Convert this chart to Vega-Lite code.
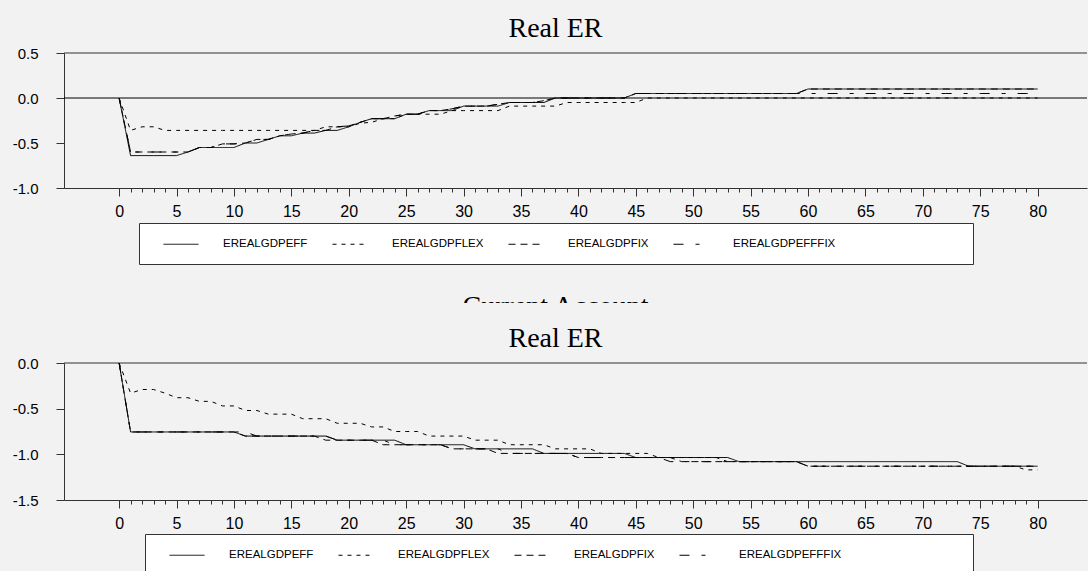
{
 "$schema": "https://vega.github.io/schema/vega-lite/v6.json",
 "background": "#f2f2f2",
 "padding": {"left": 12, "top": 15, "right": 0, "bottom": 0},
 "config": {
  "view": {"stroke": null},
  "font": "Liberation Sans",
  "axis": {"grid": false, "title": null, "domainColor": "#333", "tickColor": "#333", "labelColor": "black", "labelFlush": false}
 },
 "datasets": {
  "top": [
   {"x":0,"EREALGDPEFF":0,"EREALGDPFLEX":0,"EREALGDPFIX":0,"EREALGDPEFFFIX":0},
   {"x":1,"EREALGDPEFF":-0.64,"EREALGDPFLEX":-0.36,"EREALGDPFIX":-0.6,"EREALGDPEFFFIX":-0.6},
   {"x":2,"EREALGDPEFF":-0.64,"EREALGDPFLEX":-0.32,"EREALGDPFIX":-0.6,"EREALGDPEFFFIX":-0.6},
   {"x":3,"EREALGDPEFF":-0.64,"EREALGDPFLEX":-0.32,"EREALGDPFIX":-0.6,"EREALGDPEFFFIX":-0.6},
   {"x":4,"EREALGDPEFF":-0.64,"EREALGDPFLEX":-0.36,"EREALGDPFIX":-0.6,"EREALGDPEFFFIX":-0.6},
   {"x":5,"EREALGDPEFF":-0.64,"EREALGDPFLEX":-0.36,"EREALGDPFIX":-0.6,"EREALGDPEFFFIX":-0.6},
   {"x":6,"EREALGDPEFF":-0.6,"EREALGDPFLEX":-0.36,"EREALGDPFIX":-0.6,"EREALGDPEFFFIX":-0.6},
   {"x":7,"EREALGDPEFF":-0.55,"EREALGDPFLEX":-0.36,"EREALGDPFIX":-0.55,"EREALGDPEFFFIX":-0.55},
   {"x":8,"EREALGDPEFF":-0.55,"EREALGDPFLEX":-0.36,"EREALGDPFIX":-0.55,"EREALGDPEFFFIX":-0.55},
   {"x":9,"EREALGDPEFF":-0.55,"EREALGDPFLEX":-0.36,"EREALGDPFIX":-0.51,"EREALGDPEFFFIX":-0.51},
   {"x":10,"EREALGDPEFF":-0.55,"EREALGDPFLEX":-0.36,"EREALGDPFIX":-0.51,"EREALGDPEFFFIX":-0.51},
   {"x":11,"EREALGDPEFF":-0.5,"EREALGDPFLEX":-0.36,"EREALGDPFIX":-0.5,"EREALGDPEFFFIX":-0.5},
   {"x":12,"EREALGDPEFF":-0.5,"EREALGDPFLEX":-0.36,"EREALGDPFIX":-0.46,"EREALGDPEFFFIX":-0.46},
   {"x":13,"EREALGDPEFF":-0.46,"EREALGDPFLEX":-0.36,"EREALGDPFIX":-0.46,"EREALGDPEFFFIX":-0.46},
   {"x":14,"EREALGDPEFF":-0.42,"EREALGDPFLEX":-0.36,"EREALGDPFIX":-0.42,"EREALGDPEFFFIX":-0.42},
   {"x":15,"EREALGDPEFF":-0.42,"EREALGDPFLEX":-0.36,"EREALGDPFIX":-0.4,"EREALGDPEFFFIX":-0.4},
   {"x":16,"EREALGDPEFF":-0.39,"EREALGDPFLEX":-0.36,"EREALGDPFIX":-0.39,"EREALGDPEFFFIX":-0.39},
   {"x":17,"EREALGDPEFF":-0.39,"EREALGDPFLEX":-0.36,"EREALGDPFIX":-0.36,"EREALGDPEFFFIX":-0.36},
   {"x":18,"EREALGDPEFF":-0.36,"EREALGDPFLEX":-0.32,"EREALGDPFIX":-0.36,"EREALGDPEFFFIX":-0.36},
   {"x":19,"EREALGDPEFF":-0.36,"EREALGDPFLEX":-0.32,"EREALGDPFIX":-0.32,"EREALGDPEFFFIX":-0.32},
   {"x":20,"EREALGDPEFF":-0.32,"EREALGDPFLEX":-0.32,"EREALGDPFIX":-0.31,"EREALGDPEFFFIX":-0.31},
   {"x":21,"EREALGDPEFF":-0.27,"EREALGDPFLEX":-0.28,"EREALGDPFIX":-0.27,"EREALGDPEFFFIX":-0.27},
   {"x":22,"EREALGDPEFF":-0.23,"EREALGDPFLEX":-0.27,"EREALGDPFIX":-0.23,"EREALGDPEFFFIX":-0.23},
   {"x":23,"EREALGDPEFF":-0.23,"EREALGDPFLEX":-0.23,"EREALGDPFIX":-0.23,"EREALGDPEFFFIX":-0.23},
   {"x":24,"EREALGDPEFF":-0.23,"EREALGDPFLEX":-0.23,"EREALGDPFIX":-0.2,"EREALGDPEFFFIX":-0.2},
   {"x":25,"EREALGDPEFF":-0.18,"EREALGDPFLEX":-0.18,"EREALGDPFIX":-0.18,"EREALGDPEFFFIX":-0.18},
   {"x":26,"EREALGDPEFF":-0.18,"EREALGDPFLEX":-0.18,"EREALGDPFIX":-0.18,"EREALGDPEFFFIX":-0.18},
   {"x":27,"EREALGDPEFF":-0.14,"EREALGDPFLEX":-0.18,"EREALGDPFIX":-0.14,"EREALGDPEFFFIX":-0.14},
   {"x":28,"EREALGDPEFF":-0.14,"EREALGDPFLEX":-0.18,"EREALGDPFIX":-0.14,"EREALGDPEFFFIX":-0.14},
   {"x":29,"EREALGDPEFF":-0.14,"EREALGDPFLEX":-0.14,"EREALGDPFIX":-0.12,"EREALGDPEFFFIX":-0.12},
   {"x":30,"EREALGDPEFF":-0.09,"EREALGDPFLEX":-0.14,"EREALGDPFIX":-0.09,"EREALGDPEFFFIX":-0.09},
   {"x":31,"EREALGDPEFF":-0.09,"EREALGDPFLEX":-0.14,"EREALGDPFIX":-0.09,"EREALGDPEFFFIX":-0.09},
   {"x":32,"EREALGDPEFF":-0.09,"EREALGDPFLEX":-0.14,"EREALGDPFIX":-0.09,"EREALGDPEFFFIX":-0.09},
   {"x":33,"EREALGDPEFF":-0.09,"EREALGDPFLEX":-0.14,"EREALGDPFIX":-0.07,"EREALGDPEFFFIX":-0.07},
   {"x":34,"EREALGDPEFF":-0.05,"EREALGDPFLEX":-0.09,"EREALGDPFIX":-0.05,"EREALGDPEFFFIX":-0.05},
   {"x":35,"EREALGDPEFF":-0.05,"EREALGDPFLEX":-0.09,"EREALGDPFIX":-0.05,"EREALGDPEFFFIX":-0.05},
   {"x":36,"EREALGDPEFF":-0.05,"EREALGDPFLEX":-0.09,"EREALGDPFIX":-0.05,"EREALGDPEFFFIX":-0.05},
   {"x":37,"EREALGDPEFF":-0.05,"EREALGDPFLEX":-0.09,"EREALGDPFIX":-0.03,"EREALGDPEFFFIX":-0.03},
   {"x":38,"EREALGDPEFF":0,"EREALGDPFLEX":-0.09,"EREALGDPFIX":0,"EREALGDPEFFFIX":0},
   {"x":39,"EREALGDPEFF":0,"EREALGDPFLEX":-0.05,"EREALGDPFIX":0,"EREALGDPEFFFIX":0},
   {"x":40,"EREALGDPEFF":0,"EREALGDPFLEX":-0.05,"EREALGDPFIX":0,"EREALGDPEFFFIX":0},
   {"x":41,"EREALGDPEFF":0,"EREALGDPFLEX":-0.05,"EREALGDPFIX":0,"EREALGDPEFFFIX":0},
   {"x":42,"EREALGDPEFF":0,"EREALGDPFLEX":-0.05,"EREALGDPFIX":0,"EREALGDPEFFFIX":0},
   {"x":43,"EREALGDPEFF":0,"EREALGDPFLEX":-0.05,"EREALGDPFIX":0,"EREALGDPEFFFIX":0},
   {"x":44,"EREALGDPEFF":0,"EREALGDPFLEX":-0.05,"EREALGDPFIX":0,"EREALGDPEFFFIX":0},
   {"x":45,"EREALGDPEFF":0.05,"EREALGDPFLEX":-0.05,"EREALGDPFIX":0.05,"EREALGDPEFFFIX":0.05},
   {"x":46,"EREALGDPEFF":0.05,"EREALGDPFLEX":0,"EREALGDPFIX":0.05,"EREALGDPEFFFIX":0.05},
   {"x":47,"EREALGDPEFF":0.05,"EREALGDPFLEX":0,"EREALGDPFIX":0.05,"EREALGDPEFFFIX":0.05},
   {"x":48,"EREALGDPEFF":0.05,"EREALGDPFLEX":0,"EREALGDPFIX":0.05,"EREALGDPEFFFIX":0.05},
   {"x":49,"EREALGDPEFF":0.05,"EREALGDPFLEX":0,"EREALGDPFIX":0.05,"EREALGDPEFFFIX":0.05},
   {"x":50,"EREALGDPEFF":0.05,"EREALGDPFLEX":0,"EREALGDPFIX":0.05,"EREALGDPEFFFIX":0.05},
   {"x":51,"EREALGDPEFF":0.05,"EREALGDPFLEX":0,"EREALGDPFIX":0.05,"EREALGDPEFFFIX":0.05},
   {"x":52,"EREALGDPEFF":0.05,"EREALGDPFLEX":0,"EREALGDPFIX":0.05,"EREALGDPEFFFIX":0.05},
   {"x":53,"EREALGDPEFF":0.05,"EREALGDPFLEX":0,"EREALGDPFIX":0.05,"EREALGDPEFFFIX":0.05},
   {"x":54,"EREALGDPEFF":0.05,"EREALGDPFLEX":0,"EREALGDPFIX":0.05,"EREALGDPEFFFIX":0.05},
   {"x":55,"EREALGDPEFF":0.05,"EREALGDPFLEX":0,"EREALGDPFIX":0.05,"EREALGDPEFFFIX":0.05},
   {"x":56,"EREALGDPEFF":0.05,"EREALGDPFLEX":0,"EREALGDPFIX":0.05,"EREALGDPEFFFIX":0.05},
   {"x":57,"EREALGDPEFF":0.05,"EREALGDPFLEX":0,"EREALGDPFIX":0.05,"EREALGDPEFFFIX":0.05},
   {"x":58,"EREALGDPEFF":0.05,"EREALGDPFLEX":0,"EREALGDPFIX":0.05,"EREALGDPEFFFIX":0.05},
   {"x":59,"EREALGDPEFF":0.05,"EREALGDPFLEX":0,"EREALGDPFIX":0.05,"EREALGDPEFFFIX":0.05},
   {"x":60,"EREALGDPEFF":0.1,"EREALGDPFLEX":0,"EREALGDPFIX":0.1,"EREALGDPEFFFIX":0.05},
   {"x":61,"EREALGDPEFF":0.1,"EREALGDPFLEX":0,"EREALGDPFIX":0.1,"EREALGDPEFFFIX":0.05},
   {"x":62,"EREALGDPEFF":0.1,"EREALGDPFLEX":0,"EREALGDPFIX":0.1,"EREALGDPEFFFIX":0.05},
   {"x":63,"EREALGDPEFF":0.1,"EREALGDPFLEX":0,"EREALGDPFIX":0.1,"EREALGDPEFFFIX":0.05},
   {"x":64,"EREALGDPEFF":0.1,"EREALGDPFLEX":0,"EREALGDPFIX":0.1,"EREALGDPEFFFIX":0.05},
   {"x":65,"EREALGDPEFF":0.1,"EREALGDPFLEX":0,"EREALGDPFIX":0.1,"EREALGDPEFFFIX":0.05},
   {"x":66,"EREALGDPEFF":0.1,"EREALGDPFLEX":0,"EREALGDPFIX":0.1,"EREALGDPEFFFIX":0.05},
   {"x":67,"EREALGDPEFF":0.1,"EREALGDPFLEX":0,"EREALGDPFIX":0.1,"EREALGDPEFFFIX":0.05},
   {"x":68,"EREALGDPEFF":0.1,"EREALGDPFLEX":0,"EREALGDPFIX":0.1,"EREALGDPEFFFIX":0.05},
   {"x":69,"EREALGDPEFF":0.1,"EREALGDPFLEX":0,"EREALGDPFIX":0.1,"EREALGDPEFFFIX":0.05},
   {"x":70,"EREALGDPEFF":0.1,"EREALGDPFLEX":0,"EREALGDPFIX":0.1,"EREALGDPEFFFIX":0.05},
   {"x":71,"EREALGDPEFF":0.1,"EREALGDPFLEX":0,"EREALGDPFIX":0.1,"EREALGDPEFFFIX":0.05},
   {"x":72,"EREALGDPEFF":0.1,"EREALGDPFLEX":0,"EREALGDPFIX":0.1,"EREALGDPEFFFIX":0.05},
   {"x":73,"EREALGDPEFF":0.1,"EREALGDPFLEX":0,"EREALGDPFIX":0.1,"EREALGDPEFFFIX":0.05},
   {"x":74,"EREALGDPEFF":0.1,"EREALGDPFLEX":0,"EREALGDPFIX":0.1,"EREALGDPEFFFIX":0.05},
   {"x":75,"EREALGDPEFF":0.1,"EREALGDPFLEX":0,"EREALGDPFIX":0.1,"EREALGDPEFFFIX":0.05},
   {"x":76,"EREALGDPEFF":0.1,"EREALGDPFLEX":0,"EREALGDPFIX":0.1,"EREALGDPEFFFIX":0.05},
   {"x":77,"EREALGDPEFF":0.1,"EREALGDPFLEX":0,"EREALGDPFIX":0.1,"EREALGDPEFFFIX":0.05},
   {"x":78,"EREALGDPEFF":0.1,"EREALGDPFLEX":0,"EREALGDPFIX":0.1,"EREALGDPEFFFIX":0.05},
   {"x":79,"EREALGDPEFF":0.1,"EREALGDPFLEX":0,"EREALGDPFIX":0.1,"EREALGDPEFFFIX":0.05},
   {"x":80,"EREALGDPEFF":0.1,"EREALGDPFLEX":0,"EREALGDPFIX":0.1,"EREALGDPEFFFIX":0.05}
  ],
  "bottom": [
   {"x":0,"EREALGDPEFF":0,"EREALGDPFLEX":0,"EREALGDPFIX":0,"EREALGDPEFFFIX":0},
   {"x":1,"EREALGDPEFF":-0.755,"EREALGDPFLEX":-0.33,"EREALGDPFIX":-0.755,"EREALGDPEFFFIX":-0.755},
   {"x":2,"EREALGDPEFF":-0.755,"EREALGDPFLEX":-0.29,"EREALGDPFIX":-0.755,"EREALGDPEFFFIX":-0.755},
   {"x":3,"EREALGDPEFF":-0.755,"EREALGDPFLEX":-0.29,"EREALGDPFIX":-0.755,"EREALGDPEFFFIX":-0.755},
   {"x":4,"EREALGDPEFF":-0.755,"EREALGDPFLEX":-0.33,"EREALGDPFIX":-0.755,"EREALGDPEFFFIX":-0.755},
   {"x":5,"EREALGDPEFF":-0.755,"EREALGDPFLEX":-0.38,"EREALGDPFIX":-0.755,"EREALGDPEFFFIX":-0.755},
   {"x":6,"EREALGDPEFF":-0.755,"EREALGDPFLEX":-0.38,"EREALGDPFIX":-0.755,"EREALGDPEFFFIX":-0.755},
   {"x":7,"EREALGDPEFF":-0.755,"EREALGDPFLEX":-0.42,"EREALGDPFIX":-0.755,"EREALGDPEFFFIX":-0.755},
   {"x":8,"EREALGDPEFF":-0.755,"EREALGDPFLEX":-0.42,"EREALGDPFIX":-0.755,"EREALGDPEFFFIX":-0.755},
   {"x":9,"EREALGDPEFF":-0.755,"EREALGDPFLEX":-0.47,"EREALGDPFIX":-0.755,"EREALGDPEFFFIX":-0.755},
   {"x":10,"EREALGDPEFF":-0.755,"EREALGDPFLEX":-0.47,"EREALGDPFIX":-0.755,"EREALGDPEFFFIX":-0.755},
   {"x":11,"EREALGDPEFF":-0.8,"EREALGDPFLEX":-0.52,"EREALGDPFIX":-0.8,"EREALGDPEFFFIX":-0.755},
   {"x":12,"EREALGDPEFF":-0.8,"EREALGDPFLEX":-0.52,"EREALGDPFIX":-0.8,"EREALGDPEFFFIX":-0.8},
   {"x":13,"EREALGDPEFF":-0.8,"EREALGDPFLEX":-0.56,"EREALGDPFIX":-0.8,"EREALGDPEFFFIX":-0.8},
   {"x":14,"EREALGDPEFF":-0.8,"EREALGDPFLEX":-0.56,"EREALGDPFIX":-0.8,"EREALGDPEFFFIX":-0.8},
   {"x":15,"EREALGDPEFF":-0.8,"EREALGDPFLEX":-0.56,"EREALGDPFIX":-0.8,"EREALGDPEFFFIX":-0.8},
   {"x":16,"EREALGDPEFF":-0.8,"EREALGDPFLEX":-0.61,"EREALGDPFIX":-0.8,"EREALGDPEFFFIX":-0.8},
   {"x":17,"EREALGDPEFF":-0.8,"EREALGDPFLEX":-0.61,"EREALGDPFIX":-0.8,"EREALGDPEFFFIX":-0.8},
   {"x":18,"EREALGDPEFF":-0.8,"EREALGDPFLEX":-0.61,"EREALGDPFIX":-0.845,"EREALGDPEFFFIX":-0.8},
   {"x":19,"EREALGDPEFF":-0.845,"EREALGDPFLEX":-0.66,"EREALGDPFIX":-0.845,"EREALGDPEFFFIX":-0.845},
   {"x":20,"EREALGDPEFF":-0.845,"EREALGDPFLEX":-0.66,"EREALGDPFIX":-0.845,"EREALGDPEFFFIX":-0.845},
   {"x":21,"EREALGDPEFF":-0.845,"EREALGDPFLEX":-0.66,"EREALGDPFIX":-0.845,"EREALGDPEFFFIX":-0.845},
   {"x":22,"EREALGDPEFF":-0.845,"EREALGDPFLEX":-0.7,"EREALGDPFIX":-0.845,"EREALGDPEFFFIX":-0.845},
   {"x":23,"EREALGDPEFF":-0.845,"EREALGDPFLEX":-0.7,"EREALGDPFIX":-0.895,"EREALGDPEFFFIX":-0.845},
   {"x":24,"EREALGDPEFF":-0.845,"EREALGDPFLEX":-0.75,"EREALGDPFIX":-0.895,"EREALGDPEFFFIX":-0.895},
   {"x":25,"EREALGDPEFF":-0.895,"EREALGDPFLEX":-0.75,"EREALGDPFIX":-0.895,"EREALGDPEFFFIX":-0.895},
   {"x":26,"EREALGDPEFF":-0.895,"EREALGDPFLEX":-0.75,"EREALGDPFIX":-0.895,"EREALGDPEFFFIX":-0.895},
   {"x":27,"EREALGDPEFF":-0.895,"EREALGDPFLEX":-0.8,"EREALGDPFIX":-0.895,"EREALGDPEFFFIX":-0.895},
   {"x":28,"EREALGDPEFF":-0.895,"EREALGDPFLEX":-0.8,"EREALGDPFIX":-0.895,"EREALGDPEFFFIX":-0.895},
   {"x":29,"EREALGDPEFF":-0.895,"EREALGDPFLEX":-0.8,"EREALGDPFIX":-0.94,"EREALGDPEFFFIX":-0.94},
   {"x":30,"EREALGDPEFF":-0.895,"EREALGDPFLEX":-0.8,"EREALGDPFIX":-0.94,"EREALGDPEFFFIX":-0.94},
   {"x":31,"EREALGDPEFF":-0.94,"EREALGDPFLEX":-0.845,"EREALGDPFIX":-0.94,"EREALGDPEFFFIX":-0.94},
   {"x":32,"EREALGDPEFF":-0.94,"EREALGDPFLEX":-0.845,"EREALGDPFIX":-0.94,"EREALGDPEFFFIX":-0.94},
   {"x":33,"EREALGDPEFF":-0.94,"EREALGDPFLEX":-0.845,"EREALGDPFIX":-0.99,"EREALGDPEFFFIX":-0.94},
   {"x":34,"EREALGDPEFF":-0.94,"EREALGDPFLEX":-0.895,"EREALGDPFIX":-0.99,"EREALGDPEFFFIX":-0.99},
   {"x":35,"EREALGDPEFF":-0.94,"EREALGDPFLEX":-0.895,"EREALGDPFIX":-0.99,"EREALGDPEFFFIX":-0.99},
   {"x":36,"EREALGDPEFF":-0.94,"EREALGDPFLEX":-0.895,"EREALGDPFIX":-0.99,"EREALGDPEFFFIX":-0.99},
   {"x":37,"EREALGDPEFF":-0.99,"EREALGDPFLEX":-0.895,"EREALGDPFIX":-0.99,"EREALGDPEFFFIX":-0.99},
   {"x":38,"EREALGDPEFF":-0.99,"EREALGDPFLEX":-0.94,"EREALGDPFIX":-0.99,"EREALGDPEFFFIX":-0.99},
   {"x":39,"EREALGDPEFF":-0.99,"EREALGDPFLEX":-0.94,"EREALGDPFIX":-0.99,"EREALGDPEFFFIX":-0.99},
   {"x":40,"EREALGDPEFF":-0.99,"EREALGDPFLEX":-0.94,"EREALGDPFIX":-1.035,"EREALGDPEFFFIX":-1.035},
   {"x":41,"EREALGDPEFF":-0.99,"EREALGDPFLEX":-0.94,"EREALGDPFIX":-1.035,"EREALGDPEFFFIX":-1.035},
   {"x":42,"EREALGDPEFF":-0.99,"EREALGDPFLEX":-0.99,"EREALGDPFIX":-1.035,"EREALGDPEFFFIX":-1.035},
   {"x":43,"EREALGDPEFF":-0.99,"EREALGDPFLEX":-0.99,"EREALGDPFIX":-1.035,"EREALGDPEFFFIX":-1.035},
   {"x":44,"EREALGDPEFF":-0.99,"EREALGDPFLEX":-0.99,"EREALGDPFIX":-1.035,"EREALGDPEFFFIX":-1.035},
   {"x":45,"EREALGDPEFF":-1.035,"EREALGDPFLEX":-0.99,"EREALGDPFIX":-1.035,"EREALGDPEFFFIX":-1.035},
   {"x":46,"EREALGDPEFF":-1.035,"EREALGDPFLEX":-0.99,"EREALGDPFIX":-1.035,"EREALGDPEFFFIX":-1.035},
   {"x":47,"EREALGDPEFF":-1.035,"EREALGDPFLEX":-1.035,"EREALGDPFIX":-1.035,"EREALGDPEFFFIX":-1.035},
   {"x":48,"EREALGDPEFF":-1.035,"EREALGDPFLEX":-1.035,"EREALGDPFIX":-1.035,"EREALGDPEFFFIX":-1.08},
   {"x":49,"EREALGDPEFF":-1.035,"EREALGDPFLEX":-1.035,"EREALGDPFIX":-1.08,"EREALGDPEFFFIX":-1.08},
   {"x":50,"EREALGDPEFF":-1.035,"EREALGDPFLEX":-1.035,"EREALGDPFIX":-1.08,"EREALGDPEFFFIX":-1.08},
   {"x":51,"EREALGDPEFF":-1.035,"EREALGDPFLEX":-1.035,"EREALGDPFIX":-1.08,"EREALGDPEFFFIX":-1.08},
   {"x":52,"EREALGDPEFF":-1.035,"EREALGDPFLEX":-1.035,"EREALGDPFIX":-1.08,"EREALGDPEFFFIX":-1.08},
   {"x":53,"EREALGDPEFF":-1.035,"EREALGDPFLEX":-1.08,"EREALGDPFIX":-1.08,"EREALGDPEFFFIX":-1.08},
   {"x":54,"EREALGDPEFF":-1.08,"EREALGDPFLEX":-1.08,"EREALGDPFIX":-1.08,"EREALGDPEFFFIX":-1.08},
   {"x":55,"EREALGDPEFF":-1.08,"EREALGDPFLEX":-1.08,"EREALGDPFIX":-1.08,"EREALGDPEFFFIX":-1.08},
   {"x":56,"EREALGDPEFF":-1.08,"EREALGDPFLEX":-1.08,"EREALGDPFIX":-1.08,"EREALGDPEFFFIX":-1.08},
   {"x":57,"EREALGDPEFF":-1.08,"EREALGDPFLEX":-1.08,"EREALGDPFIX":-1.08,"EREALGDPEFFFIX":-1.08},
   {"x":58,"EREALGDPEFF":-1.08,"EREALGDPFLEX":-1.08,"EREALGDPFIX":-1.08,"EREALGDPEFFFIX":-1.08},
   {"x":59,"EREALGDPEFF":-1.08,"EREALGDPFLEX":-1.08,"EREALGDPFIX":-1.08,"EREALGDPEFFFIX":-1.08},
   {"x":60,"EREALGDPEFF":-1.08,"EREALGDPFLEX":-1.13,"EREALGDPFIX":-1.13,"EREALGDPEFFFIX":-1.13},
   {"x":61,"EREALGDPEFF":-1.08,"EREALGDPFLEX":-1.13,"EREALGDPFIX":-1.13,"EREALGDPEFFFIX":-1.13},
   {"x":62,"EREALGDPEFF":-1.08,"EREALGDPFLEX":-1.13,"EREALGDPFIX":-1.13,"EREALGDPEFFFIX":-1.13},
   {"x":63,"EREALGDPEFF":-1.08,"EREALGDPFLEX":-1.13,"EREALGDPFIX":-1.13,"EREALGDPEFFFIX":-1.13},
   {"x":64,"EREALGDPEFF":-1.08,"EREALGDPFLEX":-1.13,"EREALGDPFIX":-1.13,"EREALGDPEFFFIX":-1.13},
   {"x":65,"EREALGDPEFF":-1.08,"EREALGDPFLEX":-1.13,"EREALGDPFIX":-1.13,"EREALGDPEFFFIX":-1.13},
   {"x":66,"EREALGDPEFF":-1.08,"EREALGDPFLEX":-1.13,"EREALGDPFIX":-1.13,"EREALGDPEFFFIX":-1.13},
   {"x":67,"EREALGDPEFF":-1.08,"EREALGDPFLEX":-1.13,"EREALGDPFIX":-1.13,"EREALGDPEFFFIX":-1.13},
   {"x":68,"EREALGDPEFF":-1.08,"EREALGDPFLEX":-1.13,"EREALGDPFIX":-1.13,"EREALGDPEFFFIX":-1.13},
   {"x":69,"EREALGDPEFF":-1.08,"EREALGDPFLEX":-1.13,"EREALGDPFIX":-1.13,"EREALGDPEFFFIX":-1.13},
   {"x":70,"EREALGDPEFF":-1.08,"EREALGDPFLEX":-1.13,"EREALGDPFIX":-1.13,"EREALGDPEFFFIX":-1.13},
   {"x":71,"EREALGDPEFF":-1.08,"EREALGDPFLEX":-1.13,"EREALGDPFIX":-1.13,"EREALGDPEFFFIX":-1.13},
   {"x":72,"EREALGDPEFF":-1.08,"EREALGDPFLEX":-1.13,"EREALGDPFIX":-1.13,"EREALGDPEFFFIX":-1.13},
   {"x":73,"EREALGDPEFF":-1.08,"EREALGDPFLEX":-1.13,"EREALGDPFIX":-1.13,"EREALGDPEFFFIX":-1.13},
   {"x":74,"EREALGDPEFF":-1.13,"EREALGDPFLEX":-1.13,"EREALGDPFIX":-1.13,"EREALGDPEFFFIX":-1.13},
   {"x":75,"EREALGDPEFF":-1.13,"EREALGDPFLEX":-1.13,"EREALGDPFIX":-1.13,"EREALGDPEFFFIX":-1.13},
   {"x":76,"EREALGDPEFF":-1.13,"EREALGDPFLEX":-1.13,"EREALGDPFIX":-1.13,"EREALGDPEFFFIX":-1.13},
   {"x":77,"EREALGDPEFF":-1.13,"EREALGDPFLEX":-1.13,"EREALGDPFIX":-1.13,"EREALGDPEFFFIX":-1.13},
   {"x":78,"EREALGDPEFF":-1.13,"EREALGDPFLEX":-1.13,"EREALGDPFIX":-1.13,"EREALGDPEFFFIX":-1.13},
   {"x":79,"EREALGDPEFF":-1.13,"EREALGDPFLEX":-1.17,"EREALGDPFIX":-1.13,"EREALGDPEFFFIX":-1.13},
   {"x":80,"EREALGDPEFF":-1.13,"EREALGDPFLEX":-1.17,"EREALGDPFIX":-1.13,"EREALGDPEFFFIX":-1.13}
  ]
 },
 "spacing": 26,
 "vconcat": [
  {
   "title": {"text": "Real ER", "font": "Liberation Serif", "fontSize": 28, "fontWeight": "normal", "color": "black", "baseline": "alphabetic", "offset": -19, "dx": -20, "anchor": "middle"},
   "width": 1023,
   "height": 135,
   "layer": [
    {"data": {"values": [{}]}, "mark": {"type": "rule", "color": "#333", "strokeWidth": 1}, "encoding": {"y": {"datum": 0.5, "type": "quantitative"}}},
    {"data": {"values": [{}]}, "mark": {"type": "rule", "color": "black", "strokeWidth": 1}, "encoding": {"y": {"datum": 0, "type": "quantitative"}}},
    {
     "data": {"name": "top"},
     "transform": [{"fold": ["EREALGDPEFF", "EREALGDPFLEX", "EREALGDPFIX", "EREALGDPEFFFIX"], "as": ["series", "value"]}],
     "mark": {"type": "line", "color": "black", "strokeWidth": 1},
     "encoding": {
      "x": {"field": "x", "type": "quantitative", "scale": {"domain": [-4.8, 84.3], "nice": false, "zero": false},
       "axis": {"values": [0,1,2,3,4,5,6,7,8,9,10,11,12,13,14,15,16,17,18,19,20,21,22,23,24,25,26,27,28,29,30,31,32,33,34,35,36,37,38,39,40,41,42,43,44,45,46,47,48,49,50,51,52,53,54,55,56,57,58,59,60,61,62,63,64,65,66,67,68,69,70,71,72,73,74,75,76,77,78,79,80],
        "labelExpr": "datum.value % 5 === 0 ? datum.label : ''", "labelOverlap": false, "format": "d",
        "labelFont": "Liberation Sans", "labelFontSize": 16,
        "tickSize": {"condition": {"test": "datum.value % 5 === 0", "value": 8}, "value": 4},
        "labelPadding": 7}},
      "y": {"field": "value", "type": "quantitative", "scale": {"domain": [-1, 0.5], "nice": false, "zero": false},
       "axis": {"values": [-1, -0.5, 0, 0.5], "labelExpr": "(datum.value < 0 ? '-' : '') + format(abs(datum.value), '.1f')",
        "labelFont": "Liberation Sans", "labelFontSize": 15, "tickSize": 8, "labelPadding": 18}},
      "strokeDash": {"field": "series", "type": "nominal",
       "scale": {"domain": ["EREALGDPEFF", "EREALGDPFLEX", "EREALGDPFIX", "EREALGDPEFFFIX"], "range": [[1, 0], [4, 5], [7, 5], [10, 12, 4, 12]]},
       "legend": {"orient": "none", "legendX": 75, "legendY": 170, "direction": "horizontal",
        "title": "\u00a0", "titleOrient": "right", "titlePadding": 135, "titleFontSize": 47,
        "padding": 3, "strokeColor": "#333", "fillColor": "white",
        "symbolType": "stroke", "symbolSize": 1225, "symbolStrokeWidth": 1, "symbolStrokeColor": "black", "symbolOffset": 21,
        "labelFont": "Liberation Sans", "labelFontSize": 11.5, "labelColor": "black",
        "labelOffset": 24, "columnPadding": 3, "labelLimit": 400}}
     }
    }
   ]
  },
  {
   "spacing": 22,
   "resolve": {"scale": {"strokeDash": "independent"}, "legend": {"strokeDash": "independent"}},
   "vconcat": [
    {
     "width": 1023,
     "height": 12,
     "data": {"values": [{"label": "Current Account"}]},
     "mark": {"type": "text", "clip": true, "font": "Liberation Serif", "fontSize": 28, "baseline": "alphabetic", "align": "center", "dx": -20, "dy": 18, "color": "black"},
     "encoding": {"text": {"field": "label"}}
    },
    {
     "title": {"text": "Real ER", "font": "Liberation Serif", "fontSize": 28, "fontWeight": "normal", "color": "black", "baseline": "alphabetic", "offset": -19, "dx": -20, "anchor": "middle"},
     "width": 1023,
     "height": 137,
     "layer": [
      {"data": {"values": [{}]}, "mark": {"type": "rule", "color": "#333", "strokeWidth": 1}, "encoding": {"y": {"datum": 0, "type": "quantitative"}}},
      {
       "data": {"name": "bottom"},
       "transform": [{"fold": ["EREALGDPEFF", "EREALGDPFLEX", "EREALGDPFIX", "EREALGDPEFFFIX"], "as": ["series", "value"]}],
       "mark": {"type": "line", "color": "black", "strokeWidth": 1},
       "encoding": {
        "x": {"field": "x", "type": "quantitative", "scale": {"domain": [-4.8, 84.3], "nice": false, "zero": false},
         "axis": {"values": [0,1,2,3,4,5,6,7,8,9,10,11,12,13,14,15,16,17,18,19,20,21,22,23,24,25,26,27,28,29,30,31,32,33,34,35,36,37,38,39,40,41,42,43,44,45,46,47,48,49,50,51,52,53,54,55,56,57,58,59,60,61,62,63,64,65,66,67,68,69,70,71,72,73,74,75,76,77,78,79,80],
          "labelExpr": "datum.value % 5 === 0 ? datum.label : ''", "labelOverlap": false, "format": "d",
          "labelFont": "Liberation Sans", "labelFontSize": 16,
          "tickSize": {"condition": {"test": "datum.value % 5 === 0", "value": 8}, "value": 4},
          "labelPadding": 7}},
        "y": {"field": "value", "type": "quantitative", "scale": {"domain": [-1.5, 0], "nice": false, "zero": false},
         "axis": {"values": [-1.5, -1, -0.5, 0], "labelExpr": "(datum.value < 0 ? '-' : '') + format(abs(datum.value), '.1f')",
          "labelFont": "Liberation Sans", "labelFontSize": 15, "tickSize": 8, "labelPadding": 18}},
        "strokeDash": {"field": "series", "type": "nominal",
         "scale": {"domain": ["EREALGDPEFF", "EREALGDPFLEX", "EREALGDPFIX", "EREALGDPEFFFIX"], "range": [[1, 0], [4, 5], [7, 5], [10, 12, 4, 12]]},
         "legend": {"orient": "none", "legendX": 81, "legendY": 171, "direction": "horizontal",
          "title": "\u00a0", "titleOrient": "right", "titlePadding": 129, "titleFontSize": 45,
          "padding": 3, "strokeColor": "#333", "fillColor": "white",
          "symbolType": "stroke", "symbolSize": 1225, "symbolStrokeWidth": 1, "symbolStrokeColor": "black", "symbolOffset": 21,
          "labelFont": "Liberation Sans", "labelFontSize": 11.5, "labelColor": "black",
          "labelOffset": 24, "columnPadding": 3, "labelLimit": 400}}
       }
      }
     ]
    }
   ]
  }
 ],
 "resolve": {"scale": {"strokeDash": "independent"}, "legend": {"strokeDash": "independent"}}
}
